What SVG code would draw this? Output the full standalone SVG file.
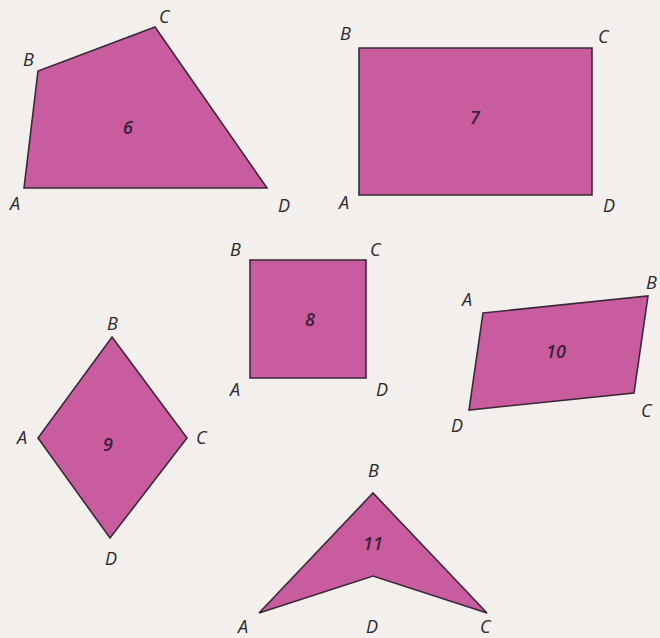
<svg xmlns="http://www.w3.org/2000/svg" width="660" height="638" viewBox="0 0 660 638">
<style>
.bg{fill:#f2efed}
.shape{fill:#c95c9f;stroke:#3a2838;stroke-width:1.6;stroke-linejoin:miter}
.lbl{font-family:"Open Sans","Liberation Sans",sans-serif;font-style:italic;font-size:18px;fill:#2e2a2c}
.num{font-family:"Open Sans","Liberation Sans",sans-serif;font-style:italic;font-weight:600;font-size:18px;fill:#3a1f38;text-anchor:middle}
</style>
<rect class="bg" x="0" y="0" width="660" height="638"/>
<g id="shape6">
<polygon class="shape" points="24,188 38,71 155,27 267,188"/>
<text class="num" x="128" y="134">6</text>
<text class="lbl" x="10" y="210">A</text>
<text class="lbl" x="23" y="66">B</text>
<text class="lbl" x="159" y="23">C</text>
<text class="lbl" x="278" y="212">D</text>
</g>
<g id="shape7">
<polygon class="shape" points="359,48 592,48 592,195 359,195"/>
<text class="num" x="475" y="124">7</text>
<text class="lbl" x="339" y="209">A</text>
<text class="lbl" x="340" y="40">B</text>
<text class="lbl" x="598" y="43">C</text>
<text class="lbl" x="603" y="212">D</text>
</g>
<g id="shape8">
<polygon class="shape" points="250,260 366,260 366,378 250,378"/>
<text class="num" x="310" y="326">8</text>
<text class="lbl" x="230" y="396">A</text>
<text class="lbl" x="230" y="256">B</text>
<text class="lbl" x="370" y="256">C</text>
<text class="lbl" x="376" y="396">D</text>
</g>
<g id="shape9">
<polygon class="shape" points="112,337 187,438 110,538 38,438"/>
<text class="num" x="108" y="451">9</text>
<text class="lbl" x="17" y="444">A</text>
<text class="lbl" x="107" y="330">B</text>
<text class="lbl" x="196" y="444">C</text>
<text class="lbl" x="105" y="565">D</text>
</g>
<g id="shape10">
<polygon class="shape" points="483,313 648,296 634,393 469,410"/>
<text class="num" x="556" y="358">10</text>
<text class="lbl" x="462" y="306">A</text>
<text class="lbl" x="646" y="289">B</text>
<text class="lbl" x="641" y="417">C</text>
<text class="lbl" x="451" y="432">D</text>
</g>
<g id="shape11">
<polygon class="shape" points="259,613 373,493 487,613 373,576"/>
<text class="num" x="373" y="550">11</text>
<text class="lbl" x="238" y="633">A</text>
<text class="lbl" x="368" y="477">B</text>
<text class="lbl" x="480" y="633">C</text>
<text class="lbl" x="366" y="633">D</text>
</g>
<g id="connectors"/>
</svg>
